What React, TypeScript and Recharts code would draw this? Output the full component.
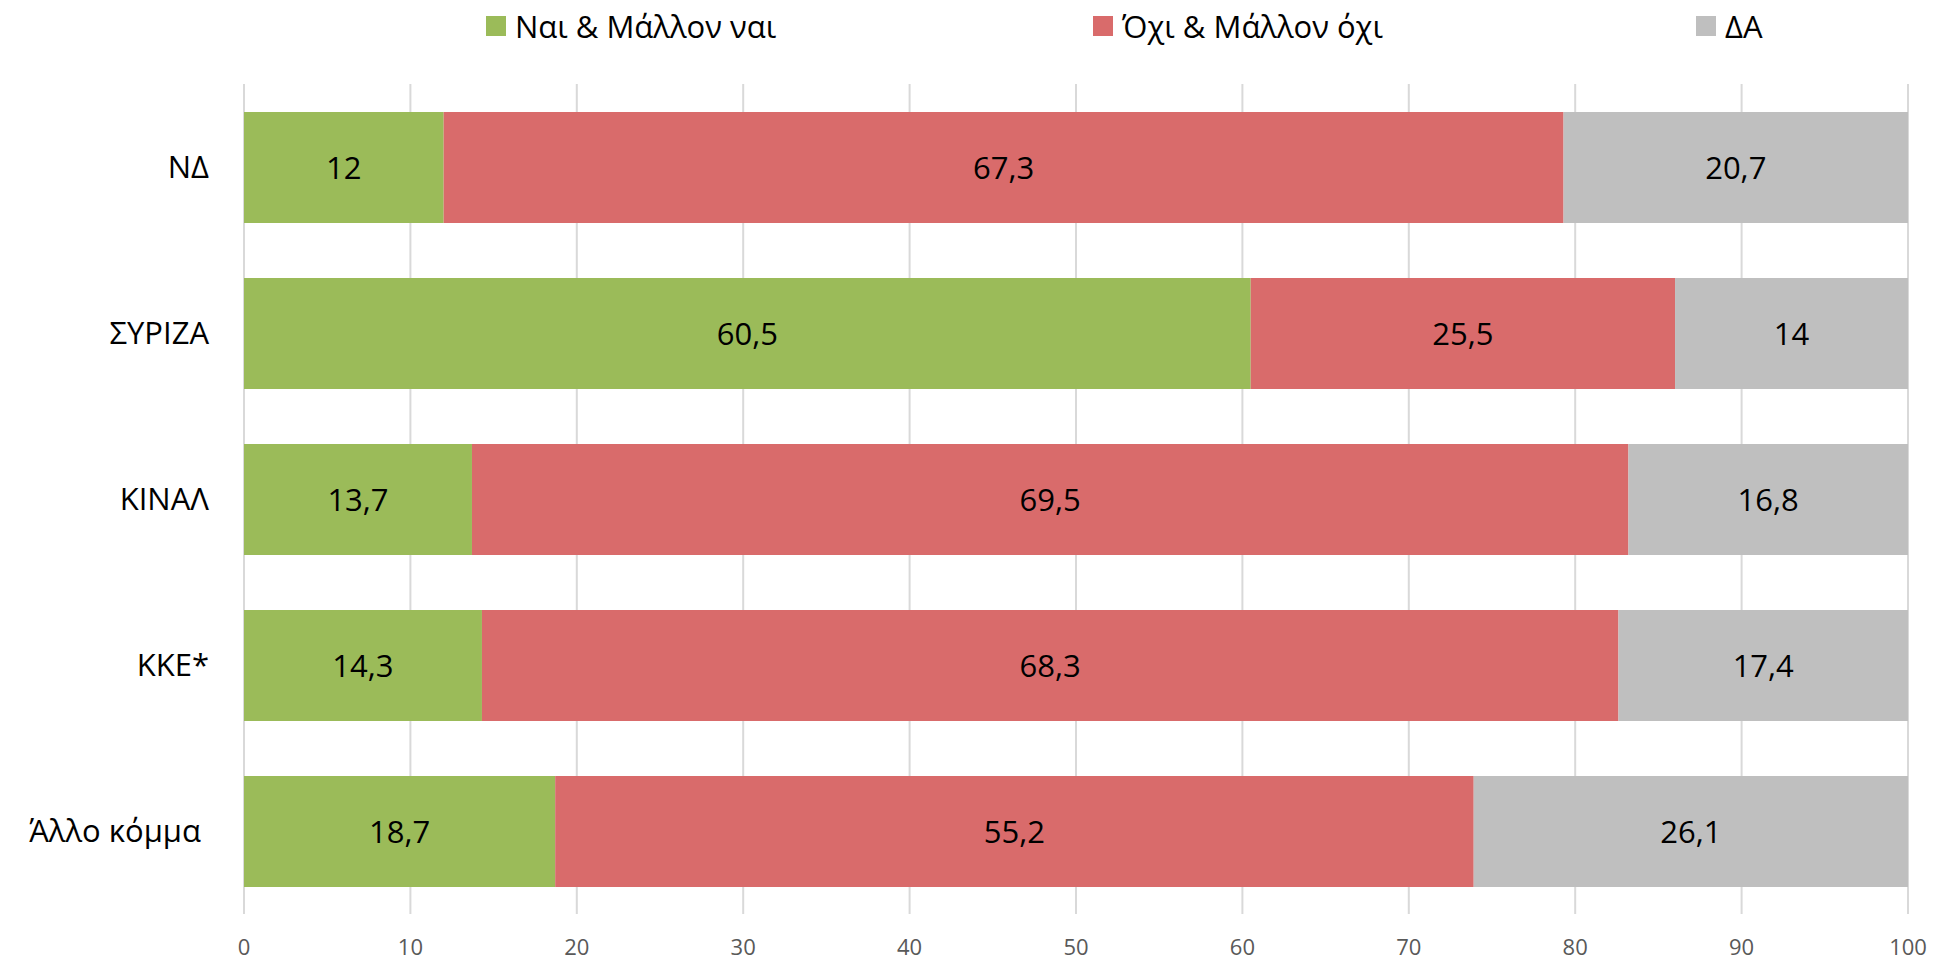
import React from 'react';
import { BarChart, Bar, XAxis, YAxis, CartesianGrid, LabelList } from 'recharts';

const parties = ['ΝΔ', 'ΣΥΡΙΖΑ', 'ΚΙΝΑΛ', 'ΚΚΕ*', 'Άλλο κόμμα\u00A0'];
const yesValues = [12, 60.5, 13.7, 14.3, 18.7];
const noValues = [67.3, 25.5, 69.5, 68.3, 55.2];
const daValues = [20.7, 14, 16.8, 17.4, 26.1];
const xTicks = [0, 10, 20, 30, 40, 50, 60, 70, 80, 90, 100];

const seriesNames = ['Ναι & Μάλλον ναι', 'Όχι & Μάλλον όχι', 'ΔΑ'];
const colors = ['#9BBB59', '#D96B6B', '#BFBFBF'];

const FONT = '"Open Sans", "Noto Sans", sans-serif';

const chartData = parties.map((name, i) => ({
  name,
  yes: yesValues[i],
  no: noValues[i],
  da: daValues[i],
}));

const fmt = (v: any) => String(v).replace('.', ',');

// legend placement, picked to line up with the original
const legendX = [486, 1093, 1696];

export default function App() {
  return (
    <div style={{ position: 'absolute', left: 0, top: 0, width: 1934, height: 961, background: '#fff', fontFamily: FONT }}>
      {seriesNames.map((s, i) => (
        <div
          key={s}
          style={{ position: 'absolute', left: legendX[i], top: 11, height: 30, display: 'flex', alignItems: 'center' }}
        >
          <div style={{ width: 20, height: 20, background: colors[i], marginRight: 9 }} />
          <span style={{ fontSize: 31, color: '#000', lineHeight: '30px' }}>{s}</span>
        </div>
      ))}

      <BarChart
        width={1934}
        height={961}
        data={chartData}
        layout="vertical"
        margin={{ top: 84, right: 26, bottom: 0, left: 0 }}
        barSize={111}
        style={{ position: 'absolute', left: 0, top: 0, fontFamily: FONT }}
      >
        <CartesianGrid horizontal={false} stroke="#D9D9D9" strokeWidth={2} />
        <XAxis
          type="number"
          domain={[0, 100]}
          ticks={xTicks}
          axisLine={false}
          tickLine={false}
          tickSize={0}
          tickMargin={25}
          height={47}
          tick={{ fill: '#595959', fontSize: 22, fontFamily: FONT }}
          interval={0}
        />
        <YAxis
          type="category"
          dataKey="name"
          width={244}
          axisLine={false}
          tickLine={false}
          tickSize={0}
          tickMargin={35}
          tick={{ fill: '#000', fontSize: 31, fontFamily: FONT }}
          interval={0}
        />
        <Bar dataKey="yes" stackId="a" fill={colors[0]} isAnimationActive={false}>
          <LabelList dataKey="yes" position="center" formatter={fmt} fill="#000" fontSize={31} fontFamily={FONT} />
        </Bar>
        <Bar dataKey="no" stackId="a" fill={colors[1]} isAnimationActive={false}>
          <LabelList dataKey="no" position="center" formatter={fmt} fill="#000" fontSize={31} fontFamily={FONT} />
        </Bar>
        <Bar dataKey="da" stackId="a" fill={colors[2]} isAnimationActive={false}>
          <LabelList dataKey="da" position="center" formatter={fmt} fill="#000" fontSize={31} fontFamily={FONT} />
        </Bar>
      </BarChart>
    </div>
  );
}
